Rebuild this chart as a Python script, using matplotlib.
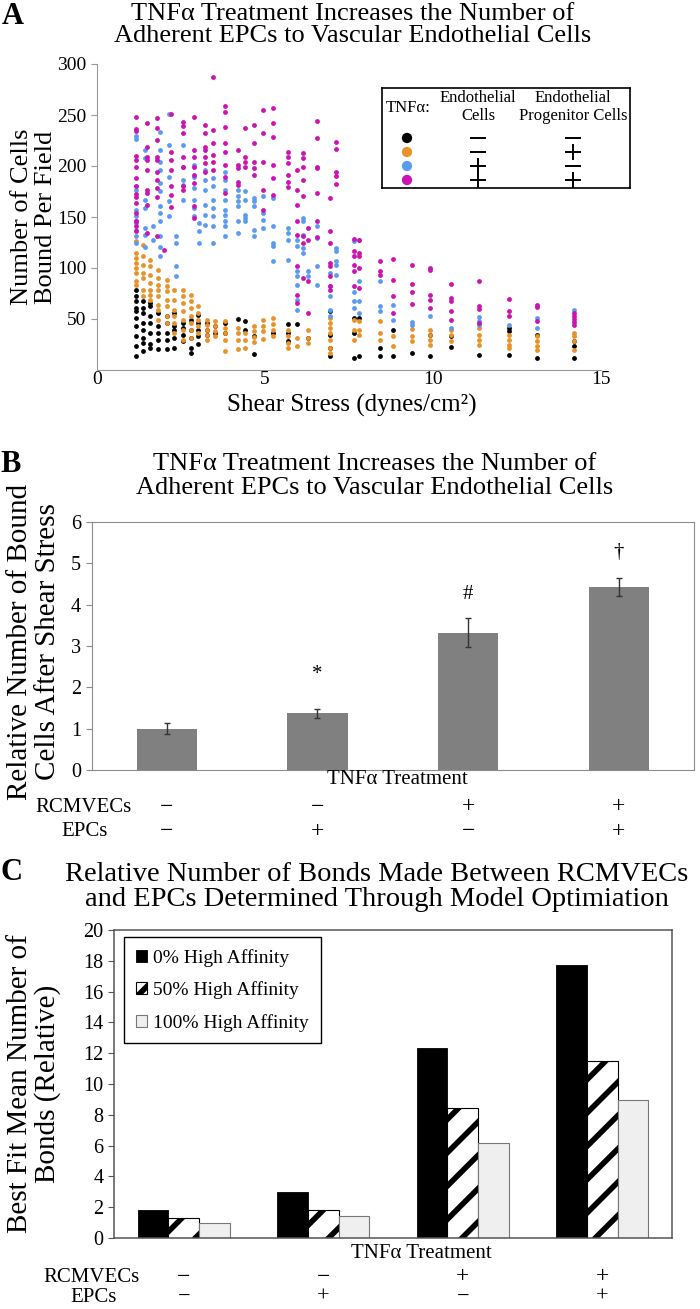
import matplotlib
matplotlib.use("Agg")
import matplotlib.pyplot as plt
from matplotlib.transforms import blended_transform_factory
import numpy as np

plt.rcParams['font.family'] = ['Liberation Serif', 'DejaVu Serif']
plt.rcParams['hatch.linewidth'] = 4.0

# ---------- data ----------
# panel A: shear stress columns (x) and cells bound per field (y lists)
black_x = [1.17, 1.37, 1.58, 1.83, 2.09, 2.29, 2.55, 2.8, 3.0, 3.26, 3.51, 3.81, 4.2, 4.41, 4.68,
           5.25, 5.68, 5.95, 6.29, 6.93, 7.64, 7.81, 8.42, 8.82, 9.37, 9.92, 10.53, 11.37, 12.27, 13.1, 14.2]
black_y = [[78.8, 72.3, 67.4, 60.9, 57.6, 51, 43, 33, 23.4, 14.2],
           [67.4, 60.9, 56, 46.2, 39.7, 31.5, 26.6, 18.5],
           [65.8, 62.5, 52.7, 46.2, 36.4, 25, 21.7],
           [56, 43, 36.4, 29.9, 20.1],
           [52.7, 46.2, 36.4, 29.9, 20.8],
           [56, 43, 39.7, 31.5, 21.7],
           [46.2, 41.3, 34.8, 28.3],
           [49.5, 39.7, 31.5, 21.7, 16.8],
           [54.3, 46.2, 39.7, 33.2, 25],
           [46.2, 39.7, 34.8],
           [43, 36.4],
           [46, 36.4],
           [50.4],
           [47.8, 39.7],
           [33.2, 15.2],
           [36],
           [45.5, 36.4, 28.2],
           [45.2],
           [31],
           [57.6, 34, 21.7, 13.6],
           [51, 36.4, 12],
           [51, 13.6],
           [21.7, 13.6],
           [39.7, 13.6],
           [16.8],
           [34.7, 13.5],
           [33, 22.7],
           [15.1],
           [41.2, 38, 15.1],
           [34.7, 11.9],
           [28.2, 23.3, 11.9]]

orange_x = [1.17, 1.37, 1.58, 1.83, 2.09, 2.29, 2.55, 2.8, 3.0, 3.26, 3.51, 3.81, 4.2, 4.41, 4.68, 4.95,
            5.25, 5.68, 5.95, 6.29, 6.93, 7.64, 7.81, 8.42, 8.82, 9.37, 9.92, 10.53, 11.37, 12.27, 13.1, 14.2]
orange_y = [[126, 114.7, 109.8, 105, 100, 95.1, 87, 83.7],
            [122.8, 111.4, 103.3, 95.1, 90.2, 78.8, 72.3],
            [108.2, 101.6, 93.5, 85.3, 78.8, 73.9, 69],
            [98.4, 90.2, 83.7, 78.8, 72.3, 64, 59.2, 49.5],
            [88.6, 82, 77.2, 69, 62.5, 52.7, 46.2],
            [78.8, 69, 59.2, 52.7, 46.2, 36.4],
            [78.8, 72.3, 65.8, 57.6, 49.5, 39.7, 29.9],
            [73.9, 67.4, 60.9, 52.7, 46.2, 39.7, 31.5],
            [62.5, 56, 49.5, 43, 36.4],
            [49.5, 44.6, 39.7, 34.8, 29.9],
            [47.8, 43, 38, 33.2],
            [47.8, 41.3, 36.4, 29.9, 18.5],
            [41.3, 36.4, 29.9, 20.1],
            [36.4, 29.9, 21.7],
            [43, 38, 32.5, 27.3],
            [49.4, 43, 38, 30],
            [51, 45, 39.7, 33],
            [39.7, 33.2, 26.6, 21.7],
            [31.5, 23.4],
            [39.7, 31.5, 26.6],
            [51, 46.2, 41.3, 36.4, 29.9, 21.7, 16.8],
            [49.4, 39.7, 29.9],
            [47.8, 39.7, 34.8],
            [47.8, 36.4, 29.9],
            [33.2, 23.4],
            [40.3, 33, 28.2],
            [39.6, 34.7, 29.8, 24.9],
            [39.6, 34.7, 28.2],
            [41.2, 34.7, 29.8, 24.9],
            [34.7, 29.8, 24.9, 21.5],
            [33, 28.2, 23.3, 20],
            [36.3, 33, 28.2, 20]]

blue_x = [1.17, 1.43, 1.68, 1.88, 2.14, 2.34, 2.55, 2.9, 3.05, 3.2, 3.46, 3.81, 4.2, 4.41, 4.68, 4.95,
          5.25, 5.68, 5.95, 6.12, 6.29, 6.54, 6.93, 7.1, 7.64, 7.81, 8.42, 8.82, 9.37, 9.92, 10.53,
          11.37, 12.27, 13.1, 14.2]
blue_y = [[229, 226.2, 180, 176.6, 157, 150.6, 144, 137.5, 131, 124.5],
          [216, 208, 167, 158.7, 139, 132.6, 121],
          [140.8, 127.7],
          [233.7, 216, 204.4, 196.3, 183, 175, 160.4, 154, 146, 131, 121, 111.4],
          [250.7, 220.7, 189.7, 165.2, 150.6],
          [131, 124.5, 101.6, 92],
          [220.7, 199.5, 186.4, 181.5, 167],
          [201.1, 189.7, 178.3, 167, 158.7, 150.6],
          [144, 136, 124.5],
          [196, 186.4, 176.6, 162, 152, 142],
          [188, 180, 167, 158.7, 150.6, 140.8, 124.5],
          [194.6, 186.4, 176.6, 166.8, 157, 152.2, 145.7, 140.8, 131],
          [176.6, 170.1, 165.2, 160.3, 145.7, 134.2],
          [175, 166.8, 152.2, 148.9, 145.7],
          [168.5, 165.2, 160.3, 137.5, 131],
          [170.1, 153.8, 147.3, 139.1],
          [168.5, 140.8, 124.5, 121.2, 106.5],
          [139.1, 134.2, 127.7, 108.2],
          [127.7, 121.2, 96.7, 91.8, 83.7, 69, 59.2],
          [148.9, 145.7, 132.6, 119.6, 114.7],
          [96.7, 91.8],
          [140.8, 129.4, 101.6, 83.7],
          [95, 82, 72.3, 59.2, 52.7],
          [119.6, 116.3, 106.5, 103.3, 93.5],
          [126.1, 76.2, 67.4, 60.9],
          [127.7, 87, 67.4, 56],
          [87, 62.5, 57.6],
          [64, 49.5],
          [46.8, 44],
          [52.7],
          [41.2],
          [51.7, 48, 44.5],
          [44.5],
          [51.1, 41.2],
          [59.2]]

magenta_x = [1.17, 1.48, 1.78, 1.98, 2.19, 2.55, 2.9, 3.2, 3.46, 3.81, 4.2, 4.41, 4.68, 4.95, 5.25,
             5.68, 5.95, 6.12, 6.29, 6.54, 6.93, 7.1, 7.64, 7.81, 8.42, 8.82, 9.37, 9.92, 10.53,
             11.37, 12.27, 13.1, 14.2]
magenta_y = [[248, 236, 234, 210, 206, 199.5, 188, 180, 173, 170, 163.6, 154, 146, 145.6, 140.8, 136],
             [242, 219, 209.3, 206, 196, 176.6, 173.4, 162, 134.2],
             [247, 237, 225.6, 209, 206, 194.6, 186.4, 178.3, 170, 131],
             [118],
             [251, 214, 206, 196, 180, 172, 160],
             [243.5, 239.3, 232.7, 209.3, 199.5, 180, 176.6],
             [248.4, 216, 209, 199.5, 191.3, 183.2, 160.4, 148.9],
             [240, 232, 219, 216, 209, 202.7, 194.6],
             [287, 235.4, 222.3, 211, 204.4, 196],
             [258.8, 253.3, 238.6, 222.3, 214.1, 201.1, 189.7, 173.4],
             [215.8, 201.1, 197.8, 184.8, 181.5],
             [237, 209.3, 204.4, 199.5],
             [240.2, 222.3, 204.4, 197.8, 191.3],
             [254.9, 232.1, 204.4, 176.6, 157],
             [256.5, 241.9, 228.8, 201.1, 188, 171.7],
             [214.1, 209.3, 202.7, 191.3, 184.8, 179.9],
             [196.2, 176.6, 162, 145.7, 132.6, 101.6, 74, 65.8],
             [212.5, 207.6, 199.5, 186.4, 170.1, 131, 124.5, 90.2],
             [139.1, 127.7, 87, 56],
             [244.5, 227.8, 199.5, 197.8, 173.4, 145.7, 130],
             [168.5, 135.9, 124.5, 104.9, 101.6, 91.8, 82, 78.8],
             [224, 216.4, 194.6, 190.3, 182.5],
             [128.4, 116.3, 111.4, 103.3, 96.7, 82],
             [127.7, 114.7, 111.4, 100, 80.4],
             [107.2, 96.7, 93.5],
             [108.8, 88, 73, 56],
             [103.3, 84.3, 76.2, 65.1],
             [100, 97.7, 73.9, 69, 60.8],
             [84.3, 70.6, 67.3, 57.6, 49.4],
             [87.6, 62.4, 59.8, 46.1],
             [69.6, 57.6, 52.7],
             [64.1, 61.5, 47.8],
             [55.9, 53, 50, 47.5, 44.5]]

series_colors = ['#000000', '#E8922A', '#5B9BEF', '#CC12B0']
legend_ec = ['−', '−', '+', '+']
legend_epc = ['−', '+', '−', '+']

# panel B
rel_bound = [1.0, 1.37, 3.32, 4.43]
rel_err = [0.14, 0.10, 0.35, 0.22]
sig_marks = ['', '*', '#', '†']
sig_y = [0, 2.3, 4.24, 5.25]

# panels B and C treatment rows
rcmvec_signs = ['−', '−', '+', '+']
epc_signs = ['−', '+', '−', '+']

# panel C
bonds_0 = [1.82, 3.0, 12.35, 17.7]
bonds_50 = [1.3, 1.82, 8.45, 11.5]
bonds_100 = [0.97, 1.43, 6.17, 8.96]

# ---------- layout helpers (pixel coords, origin top-left) ----------
W, H = 700, 1309
fig = plt.figure(figsize=(W / 100, H / 100), dpi=100)


def fx(x):
    return x / W


def fy(y):
    return 1 - y / H


def add_ax(x0, y0, x1, y1):
    return fig.add_axes([fx(x0), fy(y1), fx(x1 - x0), (y1 - y0) / H])


def ftext(x, y, s, **kw):
    kw.setdefault('ha', 'center')
    kw.setdefault('va', 'center')
    return fig.text(fx(x), fy(y), s, **kw)


def flat(xs, ys):
    X, Y = [], []
    for x, col in zip(xs, ys):
        X += [x] * len(col)
        Y += col
    return X, Y


# ---------- panel A ----------
ftext(2, 2, 'A', fontsize=22, weight='bold', ha='left', va='top')
ftext(353, 25, 'TNFα Treatment Increases the Number of\nAdherent EPCs to Vascular Endothelial Cells',
      fontsize=19, linespacing=0.95)

axA = add_ax(97, 64, 601, 370)
for (xs, ys), c in zip([(black_x, black_y), (orange_x, orange_y), (blue_x, blue_y),
                        (magenta_x, magenta_y)], series_colors):
    X, Y = flat(xs, ys)
    axA.scatter(X, Y, s=12, color=c, linewidths=0, zorder=3)
axA.set_xlim(0, 15)
axA.set_ylim(0, 300)
axA.set_xticks([0, 5, 10, 15])
axA.set_yticks([50, 100, 150, 200, 250, 300])
for sp in ['top', 'right']:
    axA.spines[sp].set_visible(False)
for sp in ['left', 'bottom']:
    axA.spines[sp].set_color('#999999')
axA.tick_params(axis='y', labelsize=14, color='#999999', length=4)
axA.tick_params(axis='x', labelsize=14, color='#999999', length=0, pad=1)
ftext(352, 405, 'Shear Stress (dynes/cm²)', fontsize=18)
ftext(34, 217, 'Number of Cells\nBound Per Field', fontsize=19, rotation=90, linespacing=1.1)

# legend box for panel A
legax = add_ax(382, 88, 630, 188)
legax.set_xlim(382, 630)
legax.set_ylim(188, 88)
legax.set_xticks([])
legax.set_yticks([])
for sp in legax.spines.values():
    sp.set_color('black')
    sp.set_linewidth(1.2)
legax.text(408, 108, 'TNFα:', fontsize=12, ha='center', va='center')
legax.text(478, 107, 'Endothelial\nCells', fontsize=12, ha='center', va='center', linespacing=1.1)
legax.text(573, 107, 'Endothelial\nProgenitor Cells', fontsize=12, ha='center', va='center', linespacing=1.1)
rows_y = [138, 152, 166, 180]
legax.scatter([407] * 4, rows_y, s=55, color=series_colors, linewidths=0)
sign_marker = {'−': '_', '+': '+'}
for ry, a, b in zip(rows_y, legend_ec, legend_epc):
    legax.plot(478, ry, marker=sign_marker[a], ms=12, mew=1.4, color='black')
    legax.plot(573, ry, marker=sign_marker[b], ms=12, mew=1.4, color='black')

# ---------- panel B ----------
ftext(0, 450, 'B', fontsize=22, weight='bold', ha='left', va='top')
ftext(375, 476, 'TNFα Treatment Increases the Number of\nAdherent EPCs to Vascular Endothelial Cells',
      fontsize=19, linespacing=1.1)

axB = add_ax(91.5, 522, 694, 770)
xb = np.arange(len(rel_bound))
axB.bar(xb, rel_bound, width=0.4, color='#808080', yerr=rel_err,
        error_kw=dict(ecolor='#333333', elinewidth=1, capsize=2.5, capthick=1))
for i, (m, yv) in enumerate(zip(sig_marks, sig_y)):
    if m:
        axB.text(i, yv, m, fontsize=15, ha='center', va='center')
axB.set_xlim(-0.5, 3.5)
axB.set_ylim(0, 6)
axB.set_yticks(range(7))
axB.set_xticks([])
for sp in axB.spines.values():
    sp.set_color('#8c8c8c')
axB.tick_params(labelsize=14.5, color='#8c8c8c', length=4)
ftext(34, 642, 'Relative Number of Bound\nCells After Shear Stress', fontsize=21, rotation=90, linespacing=1.1)
ftext(397, 779, 'TNFα Treatment', fontsize=15)
trB = blended_transform_factory(axB.transData, fig.transFigure)
ftext(83, 807, 'RCMVECs', fontsize=15)
ftext(85, 832, 'EPCs', fontsize=15)
for i, (a, b) in enumerate(zip(rcmvec_signs, epc_signs)):
    fig.text(i, fy(807), a, transform=trB, fontsize=17, ha='center', va='center')
    fig.text(i, fy(832), b, transform=trB, fontsize=17, ha='center', va='center')

# ---------- panel C ----------
ftext(0, 858, 'C', fontsize=22, weight='bold', ha='left', va='top')
ftext(377, 887, 'Relative Number of Bonds Made Between RCMVECs\nand EPCs Determined Through Model Optimiation',
      fontsize=20.5, linespacing=1.05)

axC = add_ax(114, 930, 672, 1238)
xc = np.arange(len(bonds_0))
w = 0.22
axC.bar(xc - w, bonds_0, w, color='black', edgecolor='black', linewidth=0.6, label='0% High Affinity')
axC.bar(xc, bonds_50, w, color='white', edgecolor='black', hatch='/', linewidth=0.8, label='50% High Affinity')
axC.bar(xc + w, bonds_100, w, color='#EFEFEF', edgecolor='#777777', linewidth=0.8, label='100% High Affinity')
axC.set_xlim(-0.5, 3.5)
axC.set_ylim(0, 20)
axC.set_yticks(range(0, 21, 2))
axC.set_xticks([])
for sp in axC.spines.values():
    sp.set_color('#555555')
    sp.set_linewidth(1.1)
axC.tick_params(labelsize=14.5, color='#555555', length=4)
leg = axC.legend(loc='upper left', bbox_to_anchor=(0.018, 0.977), fontsize=14, frameon=True,
                 fancybox=False, edgecolor='black', framealpha=1, handlelength=0.6, handleheight=0.6,
                 handletextpad=0.3, labelspacing=0.75, borderpad=0.6, borderaxespad=0)
leg.get_frame().set_linewidth(1.0)
ftext(34, 1084, 'Best Fit Mean Number of\nBonds (Relative)', fontsize=21, rotation=90, linespacing=1.1)
ftext(421, 1253, 'TNFα Treatment', fontsize=15)
trC = blended_transform_factory(axC.transData, fig.transFigure)
ftext(92, 1277, 'RCMVECs', fontsize=15)
ftext(94, 1298, 'EPCs', fontsize=15)
for i, (a, b) in enumerate(zip(rcmvec_signs, epc_signs)):
    fig.text(i, fy(1277), a, transform=trC, fontsize=17, ha='center', va='center')
    fig.text(i, fy(1297), b, transform=trC, fontsize=16, ha='center', va='center')

fig.savefig('out.png', dpi=100)
